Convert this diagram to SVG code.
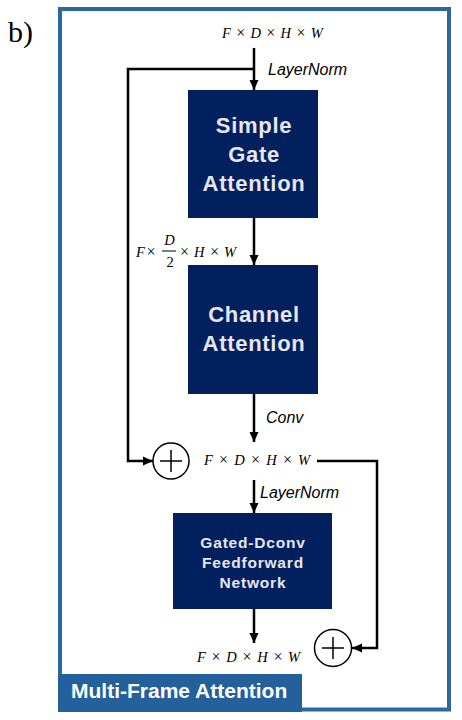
<svg xmlns="http://www.w3.org/2000/svg" width="462" height="720" viewBox="0 0 462 720">
<defs>
<marker id="ah" markerWidth="10" markerHeight="10" viewBox="0 0 10 10" refX="10" refY="5" orient="auto" markerUnits="userSpaceOnUse">
<path d="M0,0.5 L10,5 L0,9.5 Z" fill="#000"/>
</marker>
<style>
.box{fill:#03205e}
.bt{font-family:"Liberation Sans",Arial,sans-serif;font-weight:bold;fill:#e6e6ec;text-anchor:middle}
.big{font-size:22px;letter-spacing:0.7px}
.sm{font-size:15.5px;letter-spacing:0.8px}
.lbl{font-family:"Liberation Sans",Arial,sans-serif;font-style:italic;font-size:16px;fill:#000}
.m{font-family:"Liberation Serif","Times New Roman",serif;font-style:italic;font-size:14.5px;fill:#000}
.mu{font-style:normal;font-size:16px}
.ln{stroke:#000;stroke-width:2.5;fill:none}
.circ{fill:#fff;stroke:#000;stroke-width:1.5}
.plus{stroke:#000;stroke-width:1.5}
</style>
</defs>
<text x="8" y="42" font-family="Liberation Serif,'Times New Roman',serif" font-size="30px" fill="#000">b)</text>
<rect id="frame" x="60" y="9" width="389" height="700.5" fill="#fff" stroke="#2b67a1" stroke-width="4"/>
<g id="frame-label">
<rect x="58" y="674" width="244" height="38" fill="#24609b"/>
<text x="71" y="698" font-family="Liberation Sans,Arial,sans-serif" font-weight="bold" font-size="21px" fill="#fff">Multi-Frame Attention</text>
</g>
<g id="connectors">
<line class="ln" x1="254" y1="48" x2="254" y2="90" marker-end="url(#ah)"/>
<polyline class="ln" points="254,69 128,69 128,461 153,461" marker-end="url(#ah)"/>
<line class="ln" x1="254" y1="218" x2="254" y2="265" marker-end="url(#ah)"/>
<line class="ln" x1="254" y1="394" x2="254" y2="442" marker-end="url(#ah)"/>
<line class="ln" x1="254" y1="480" x2="254" y2="513" marker-end="url(#ah)"/>
<polyline class="ln" points="317,461 377,461 377,648 352,648" marker-end="url(#ah)"/>
<line class="ln" x1="254" y1="609" x2="254" y2="643" marker-end="url(#ah)"/>
</g>
<g id="labels">
<text class="m" y="38"><tspan x="222">F</tspan><tspan class="mu" x="236.2">×</tspan><tspan x="250.5">D</tspan><tspan class="mu" x="266.3">×</tspan><tspan x="280.6">H</tspan><tspan class="mu" x="296.4">×</tspan><tspan x="310.7">W</tspan></text>
<text class="lbl" x="268" y="75">LayerNorm</text>
<text class="m" y="257"><tspan x="136">F</tspan><tspan class="mu" x="146.5">×</tspan><tspan x="180" class="mu">×</tspan><tspan x="194">H</tspan><tspan class="mu" x="210">×</tspan><tspan x="224">W</tspan></text>
<text class="m" x="169.5" y="245" text-anchor="middle">D</text>
<line x1="162" y1="251" x2="176" y2="251" stroke="#000" stroke-width="1"/>
<text class="m" x="170" y="267" text-anchor="middle" style="font-style:normal">2</text>
<text class="lbl" x="266" y="423">Conv</text>
<text class="m" y="465"><tspan x="204">F</tspan><tspan class="mu" x="219.1">×</tspan><tspan x="234.3">D</tspan><tspan class="mu" x="251">×</tspan><tspan x="266.2">H</tspan><tspan class="mu" x="282.9">×</tspan><tspan x="298.1">W</tspan></text>
<text class="lbl" x="260" y="498">LayerNorm</text>
<text class="m" y="662"><tspan x="197">F</tspan><tspan class="mu" x="211.6">×</tspan><tspan x="226.3">D</tspan><tspan class="mu" x="242.5">×</tspan><tspan x="257.2">H</tspan><tspan class="mu" x="273.4">×</tspan><tspan x="288.1">W</tspan></text>
</g>
<g id="sga">
<rect class="box" x="188" y="90" width="130" height="128"/>
<text class="bt big" x="254" y="133">Simple</text>
<text class="bt big" x="254" y="162">Gate</text>
<text class="bt big" x="254" y="191">Attention</text>
</g>
<g id="ca">
<rect class="box" x="188" y="265" width="130" height="129"/>
<text class="bt big" x="254" y="322">Channel</text>
<text class="bt big" x="254" y="351">Attention</text>
</g>
<g id="gdfn">
<rect class="box" x="173" y="513" width="159" height="96"/>
<text class="bt sm" x="253" y="548">Gated-Dconv</text>
<text class="bt sm" x="253" y="568">Feedforward</text>
<text class="bt sm" x="253" y="588">Network</text>
</g>
<g id="add1">
<circle class="circ" cx="171" cy="461" r="18"/>
<line class="plus" x1="160" y1="461" x2="182" y2="461"/>
<line class="plus" x1="171" y1="450" x2="171" y2="472"/>
</g>
<g id="add2">
<circle class="circ" cx="333" cy="648" r="18.5"/>
<line class="plus" x1="322" y1="648" x2="344" y2="648"/>
<line class="plus" x1="333" y1="637" x2="333" y2="659"/>
</g>
</svg>
